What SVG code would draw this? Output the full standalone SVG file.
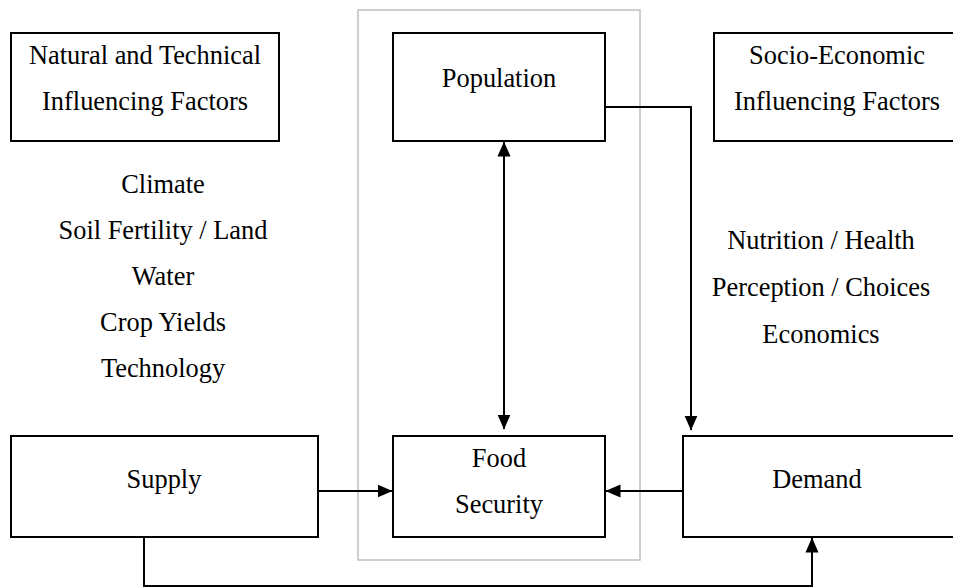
<svg xmlns="http://www.w3.org/2000/svg" width="953" height="588" viewBox="0 0 953 588">
<style>
.box{fill:#fff;stroke:#000;stroke-width:2}
.frame{fill:none;stroke:#bfbfbf;stroke-width:1.5}
.t{font-family:"Liberation Serif","Times New Roman",serif;font-size:26.4px;fill:#000;text-anchor:middle}
.c{fill:none;stroke:#000;stroke-width:2}
</style>
<defs>
<marker id="ah" viewBox="0 0 15 14" refX="14.5" refY="7" markerWidth="15" markerHeight="14" markerUnits="userSpaceOnUse" orient="auto-start-reverse">
<path d="M0,0.5 L15,7 L0,13.5 Z" fill="#000"/>
</marker>
</defs>
<rect class="frame" x="358" y="10" width="282" height="550"/>
<g id="natural">
<rect class="box" x="11" y="33" width="268" height="108"/>
<text class="t" x="145" y="64">Natural and Technical</text>
<text class="t" x="145" y="110">Influencing Factors</text>
</g>
<g id="natural-list">
<text class="t" x="163" y="193">Climate</text>
<text class="t" x="163" y="239">Soil Fertility / Land</text>
<text class="t" x="163" y="285">Water</text>
<text class="t" x="163" y="331">Crop Yields</text>
<text class="t" x="163" y="377">Technology</text>
</g>
<g id="population">
<rect class="box" x="393" y="33" width="212" height="108"/>
<text class="t" x="499" y="87">Population</text>
</g>
<g id="socio">
<rect class="box" x="714" y="33" width="250" height="108"/>
<text class="t" x="837" y="64">Socio-Economic</text>
<text class="t" x="837" y="110">Influencing Factors</text>
</g>
<g id="socio-list">
<text class="t" x="821" y="249">Nutrition / Health</text>
<text class="t" x="821" y="296">Perception / Choices</text>
<text class="t" x="821" y="343">Economics</text>
</g>
<g id="supply">
<rect class="box" x="11" y="436" width="307" height="101"/>
<text class="t" x="164" y="488">Supply</text>
</g>
<g id="food-security">
<rect class="box" x="393" y="436" width="212" height="101"/>
<text class="t" x="499" y="467">Food</text>
<text class="t" x="499" y="513">Security</text>
</g>
<g id="demand">
<rect class="box" x="683" y="436" width="280" height="101"/>
<text class="t" x="817" y="488">Demand</text>
</g>
<g id="connectors">
<line class="c" x1="504" y1="142" x2="504" y2="429" marker-start="url(#ah)" marker-end="url(#ah)"/>
<polyline class="c" points="605,107 691,107 691,430" marker-end="url(#ah)"/>
<line class="c" x1="318" y1="491" x2="392" y2="491" marker-end="url(#ah)"/>
<line class="c" x1="683" y1="491" x2="606" y2="491" marker-end="url(#ah)"/>
<polyline class="c" points="144,537 144,586 812,586 812,538" marker-end="url(#ah)"/>
</g>
</svg>
